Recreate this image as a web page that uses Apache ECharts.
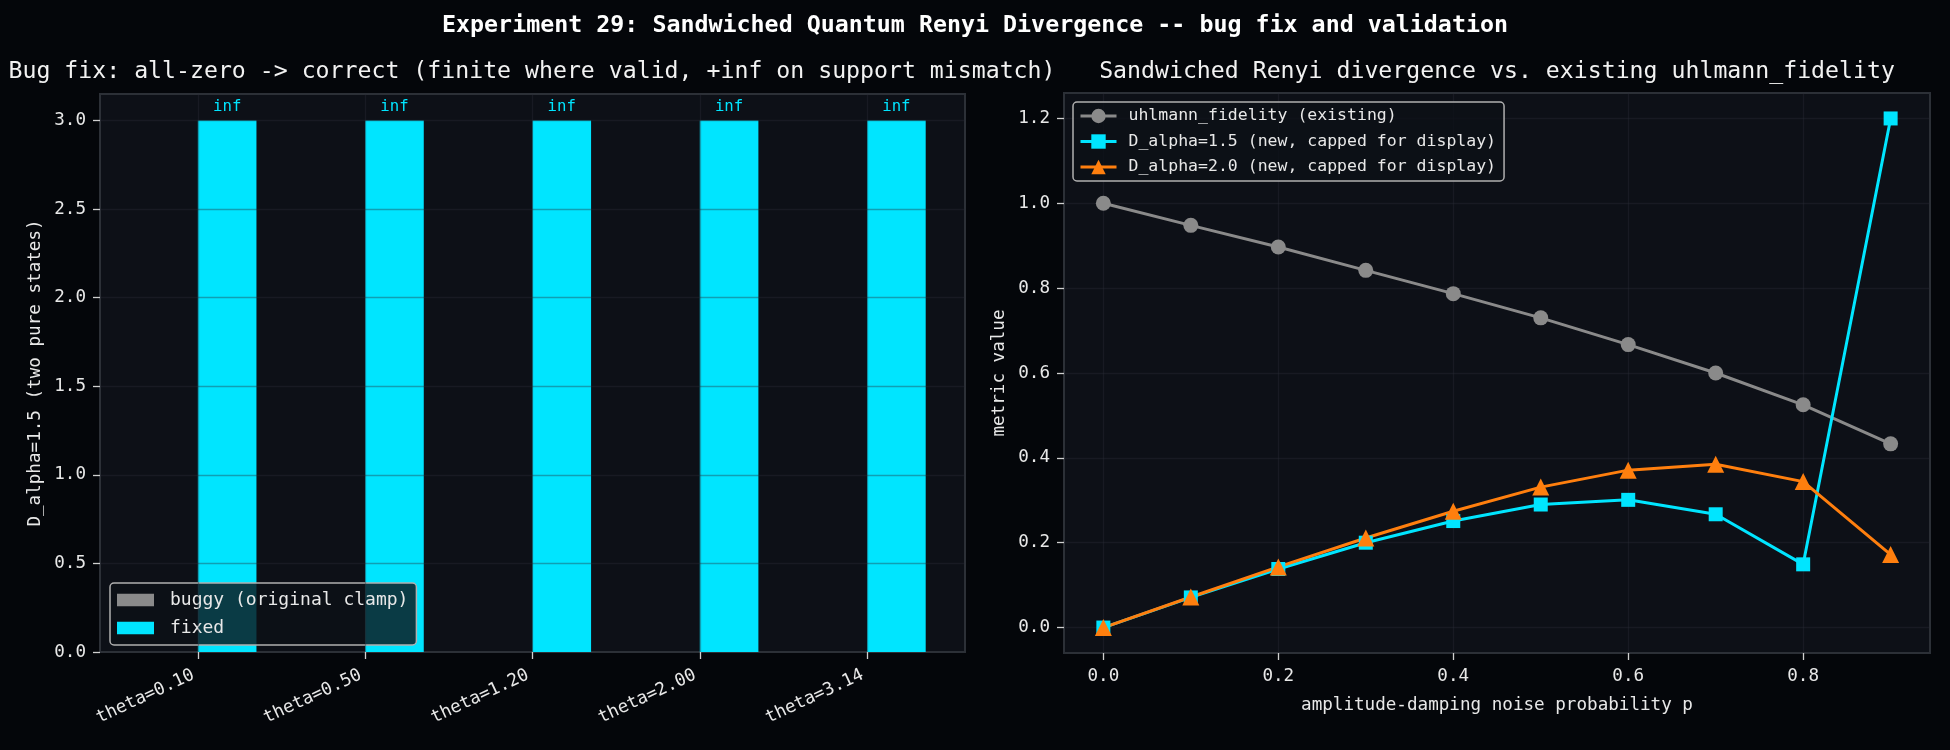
<!DOCTYPE html>
<html lang="en">
<head>
    <meta charset="UTF-8">
    <title>Experiment 29</title>
    <script src="https://cdn.jsdelivr.net/npm/echarts@6.0.0/dist/echarts.min.js"></script>
    <style>
        html, body { margin: 0; padding: 0; background: #04060a; }
        #main { width: 1950px; height: 750px; }
    </style>
</head>
<body>
    <div id="main"></div>
    <script type="text/javascript">
        // left panel: bug fix bars
        const thetaLabels = ['theta=0.10', 'theta=0.50', 'theta=1.20', 'theta=2.00', 'theta=3.14'];
        const thetaPos = [0, 1, 2, 3, 4];
        const buggyVals = [0, 0, 0, 0, 0];
        const fixedVals = [3.0, 3.0, 3.0, 3.0, 3.0];   // +inf, capped at 3 for display
        const fixedText = ['inf', 'inf', 'inf', 'inf', 'inf'];
        const barTicks = [0, 0.5, 1.0, 1.5, 2.0, 2.5, 3.0];

        // right panel: divergence vs fidelity
        const pVals = [0.0, 0.1, 0.2, 0.3, 0.4, 0.5, 0.6, 0.7, 0.8, 0.9];
        const fidelity = [1.000, 0.948, 0.897, 0.842, 0.787, 0.730, 0.667, 0.600, 0.525, 0.433];
        const dAlpha15 = [0.000, 0.071, 0.138, 0.200, 0.251, 0.290, 0.301, 0.267, 0.149, 1.200];
        const dAlpha20 = [0.000, 0.072, 0.143, 0.211, 0.274, 0.331, 0.371, 0.385, 0.344, 0.172];
        const pTicks = [0.0, 0.2, 0.4, 0.6, 0.8];
        const metricTicks = [0.0, 0.2, 0.4, 0.6, 0.8, 1.0, 1.2];

        const MONO = '"DejaVu Sans Mono", monospace';
        const CYAN = '#00e5ff';
        const ORANGE = '#ff7f0e';
        const GRAY = '#8a8a8a';
        const TXT = '#e8e8e8';
        const barOffset = 0.175;   // half of the grouped bar width (0.35)

        const tickStyle = { show: true, length: 7, lineStyle: { color: '#d0d0d0', width: 1.3 } };
        const labelStyle = { color: TXT, fontSize: 17.6, fontFamily: MONO };
        const gridLine = { color: 'rgba(42,46,56,0.38)', width: 1.3, type: 'solid' };
        const noLine = { show: false, onZero: false };

        function gridMarks(xs, ys, z) {
            return {
                silent: true, symbol: 'none', animation: false, z: z,
                label: { show: false },
                lineStyle: gridLine,
                data: xs.map(v => ({ xAxis: v })).concat(ys.map(v => ({ yAxis: v })))
            };
        }

        function centered(x, y, text, font, fill, rotation) {
            return {
                type: 'text', x: x, y: y, rotation: rotation || 0,
                style: { text: text, fill: fill, font: font, textAlign: 'center', textVerticalAlign: 'middle', align: 'center', verticalAlign: 'middle' }
            };
        }

        const option = {
            backgroundColor: '#04060a',
            animation: false,
            textStyle: { fontFamily: MONO },
            graphic: [
                centered(975, 26, 'Experiment 29: Sandwiched Quantum Renyi Divergence -- bug fix and validation', 'bold 23.3px ' + MONO, '#ffffff'),
                centered(532, 72, 'Bug fix: all-zero -> correct (finite where valid, +inf on support mismatch)', '23.2px ' + MONO, '#f2f2f2'),
                centered(1497, 72, 'Sandwiched Renyi divergence vs. existing uhlmann_fidelity', '23.2px ' + MONO, '#f2f2f2'),
                centered(35, 373, 'D_alpha=1.5 (two pure states)', '17.6px ' + MONO, TXT, Math.PI / 2),
                centered(999, 373, 'metric value', '17.6px ' + MONO, TXT, Math.PI / 2),
                centered(1497, 705, 'amplitude-damping noise probability p', '17.6px ' + MONO, TXT)
            ],
            grid: [
                { left: 100, top: 94, width: 865, height: 558, show: true, backgroundColor: '#0d1017', borderColor: '#2c3037', borderWidth: 2 },
                { left: 1064, top: 93, width: 866, height: 560, show: true, backgroundColor: '#0d1017', borderColor: '#2c3037', borderWidth: 2 }
            ],
            xAxis: [
                {
                    type: 'value', gridIndex: 0, min: -0.585, max: 4.585, position: 'bottom',
                    axisLine: noLine, splitLine: { show: false },
                    axisTick: Object.assign({ customValues: thetaPos }, tickStyle),
                    axisLabel: Object.assign({ customValues: thetaPos, rotate: 25, margin: 20, padding: [0, 5, 0, 0], formatter: v => thetaLabels[thetaPos.indexOf(v)] }, labelStyle)
                },
                {
                    type: 'value', gridIndex: 1, min: -0.045, max: 0.945, position: 'bottom',
                    axisLine: noLine, splitLine: { show: false },
                    axisTick: Object.assign({ customValues: pTicks }, tickStyle),
                    axisLabel: Object.assign({ customValues: pTicks, margin: 14, formatter: v => v.toFixed(1) }, labelStyle)
                }
            ],
            yAxis: [
                {
                    type: 'value', gridIndex: 0, min: 0, max: 3.15, position: 'left',
                    axisLine: noLine, splitLine: { show: false },
                    axisTick: Object.assign({ customValues: barTicks }, tickStyle),
                    axisLabel: Object.assign({ customValues: barTicks, margin: 14, formatter: v => v.toFixed(1) }, labelStyle)
                },
                {
                    type: 'value', gridIndex: 1, min: -0.06, max: 1.26, position: 'left',
                    axisLine: noLine, splitLine: { show: false },
                    axisTick: Object.assign({ customValues: metricTicks }, tickStyle),
                    axisLabel: Object.assign({ customValues: metricTicks, margin: 14, formatter: v => v.toFixed(1) }, labelStyle)
                }
            ],
            legend: [
                {
                    data: ['buggy (original clamp)', 'fixed'],
                    orient: 'vertical', left: 110, top: 583,
                    icon: 'rect', itemWidth: 37, itemHeight: 12.5, itemGap: 10,
                    padding: [8, 8, 8, 7],
                    backgroundColor: 'rgba(13,16,23,0.8)', borderColor: '#b0b0b0', borderWidth: 1.5, borderRadius: 4,
                    textStyle: { color: TXT, fontSize: 18, lineHeight: 18, fontFamily: MONO, padding: [0, 0, 0, 11] }
                },
                {
                    data: ['uhlmann_fidelity (existing)', 'D_alpha=1.5 (new, capped for display)', 'D_alpha=2.0 (new, capped for display)'],
                    orient: 'vertical', left: 1073, top: 102,
                    itemWidth: 36, itemHeight: 18, itemGap: 7.5,
                    padding: [5, 8, 5, 6],
                    lineStyle: { width: 3 },
                    backgroundColor: 'rgba(13,16,23,0.8)', borderColor: '#b0b0b0', borderWidth: 1.5, borderRadius: 4,
                    textStyle: { color: TXT, fontSize: 16.5, lineHeight: 18, fontFamily: MONO, padding: [0, 0, 0, 7] }
                }
            ],
            series: [
                {
                    name: 'buggy (original clamp)', type: 'bar', xAxisIndex: 0, yAxisIndex: 0,
                    barWidth: 58.6, barGap: '-100%',
                    itemStyle: { color: GRAY },
                    data: buggyVals.map((v, i) => [thetaPos[i] - barOffset, v])
                },
                {
                    name: 'fixed', type: 'bar', xAxisIndex: 0, yAxisIndex: 0,
                    barWidth: 58.6, barGap: '-100%',
                    itemStyle: { color: CYAN },
                    label: { show: true, position: 'top', distance: 6, color: CYAN, fontSize: 15.7, fontFamily: MONO, formatter: p => fixedText[p.dataIndex] },
                    data: fixedVals.map((v, i) => [thetaPos[i] + barOffset, v]),
                    markLine: gridMarks(thetaPos, barTicks.slice(1), 5)
                },
                {
                    name: 'uhlmann_fidelity (existing)', type: 'line', xAxisIndex: 1, yAxisIndex: 1,
                    symbol: 'circle', symbolSize: 15,
                    lineStyle: { color: GRAY, width: 3 }, itemStyle: { color: GRAY },
                    data: pVals.map((p, i) => [p, fidelity[i]]),
                    markLine: gridMarks(pTicks, metricTicks, 1)
                },
                {
                    name: 'D_alpha=1.5 (new, capped for display)', type: 'line', xAxisIndex: 1, yAxisIndex: 1,
                    symbol: 'rect', symbolSize: 14,
                    lineStyle: { color: CYAN, width: 3 }, itemStyle: { color: CYAN },
                    data: pVals.map((p, i) => [p, dAlpha15[i]])
                },
                {
                    name: 'D_alpha=2.0 (new, capped for display)', type: 'line', xAxisIndex: 1, yAxisIndex: 1,
                    symbol: 'triangle', symbolSize: 17,
                    lineStyle: { color: ORANGE, width: 3 }, itemStyle: { color: ORANGE },
                    data: pVals.map((p, i) => [p, dAlpha20[i]])
                }
            ]
        };

        const myChart = echarts.init(document.getElementById('main'));
        myChart.setOption(option);
    </script>
</body>
</html>
